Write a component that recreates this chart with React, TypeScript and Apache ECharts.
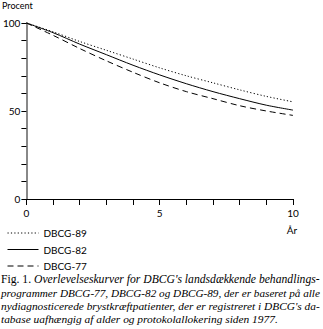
import React, { useEffect, useRef } from "react";
import * as echarts from "echarts";

const years = [0, 1, 2, 3, 4, 5, 6, 7, 8, 9, 10];
const dbcg89 = [100, 95, 89.5, 84.5, 79.5, 74.5, 70, 66, 62, 58.3, 55.2];
const dbcg82 = [100, 94.5, 88, 82, 76, 70.5, 65.5, 61, 57, 53.3, 50.5];
const dbcg77 = [100, 93, 85.5, 78.5, 72, 66, 61, 57, 53, 50, 47.5];
const xLabels = [0, 5, 10];
const yLabels = [0, 50, 100];
const captionPrefix = "Fig. 1. ";
const captionLines = [
  "Overlevelseskurver for DBCG's landsdækkende behandlings-",
  "programmer DBCG-77, DBCG-82 og DBCG-89, der er baseret på alle",
  "nydiagnosticerede brystkræftpatienter, der er registreret i DBCG's da-",
  "tabase uafhængig af alder og protokolallokering siden 1977.",
];

const sans = "Lato";
const serif = "Liberation Serif";

function measure(text: string, font: string) {
  const c = document.createElement("canvas").getContext("2d")!;
  c.font = font;
  return c.measureText(text).width;
}

export default function App() {
  const ref = useRef<HTMLDivElement>(null);
  useEffect(() => {
    if (!ref.current) return;
    const chart = echarts.init(ref.current, undefined, { renderer: "svg" });
    const mk = (name: string, data: number[], type: any) => ({
      name,
      type: "line",
      data: years.map((y, i) => [y, data[i]]),
      smooth: 0.3,
      symbol: "none",
      itemStyle: { color: "#000" },
      lineStyle: { color: "#000", width: 1, type },
    });
    const base = 11;
    const targets = [319, 319, 319, 0];
    const sizes = captionLines.map((t, i) => {
      let w = measure(t, `italic ${base}px "${serif}"`);
      if (i === 0) w += measure(captionPrefix, `${base}px "${serif}"`);
      return targets[i] ? (base * targets[i]) / w : 0;
    });
    sizes[3] = (sizes[0] + sizes[1] + sizes[2]) / 3;
    chart.setOption({
      animation: false,
      backgroundColor: "#fff",
      grid: { left: 24, right: 30, top: 23, bottom: 130, containLabel: false },
      xAxis: {
        type: "value",
        min: 0,
        max: 10,
        interval: 1,
        axisLine: { lineStyle: { color: "#000", width: 1 } },
        axisTick: { inside: false, length: 6, lineStyle: { color: "#000" } },
        splitLine: { show: false },
        axisLabel: {
          color: "#000",
          fontFamily: sans,
          fontSize: 10,
          margin: 9,
          formatter: (v: number) => (xLabels.includes(v) ? String(v) : ""),
        },
      },
      yAxis: {
        type: "value",
        min: 0,
        max: 100,
        interval: 10,
        axisLine: { show: true, lineStyle: { color: "#888", width: 2 } },
        axisTick: { show: true, inside: false, length: 5, lineStyle: { color: "#000" } },
        splitLine: { show: false },
        axisLabel: {
          color: "#000",
          fontFamily: sans,
          fontSize: 10,
          margin: 6,
          formatter: (v: number) => (yLabels.includes(v) ? String(v) : ""),
        },
      },
      legend: {
        orient: "vertical",
        left: 2,
        top: 223,
        itemWidth: 31,
        itemHeight: 10,
        itemGap: 6.5,
        data: ["DBCG-89", "DBCG-82", "DBCG-77"],
        itemStyle: { opacity: 0 },
        lineStyle: { width: 1 },
        textStyle: { color: "#000", fontFamily: sans, fontSize: 10 },
      },
      series: [
        mk("DBCG-89", dbcg89, [1.2, 2.2]),
        mk("DBCG-82", dbcg82, "solid"),
        mk("DBCG-77", dbcg77, [6, 4]),
      ],
      graphic: [
        {
          type: "text",
          left: 2,
          top: 1,
          style: { text: "Procent", fill: "#000", fontFamily: sans, fontSize: 9 },
        },
        {
          type: "text",
          x: 292,
          y: 230,
          style: {
            text: "År",
            fill: "#000",
            fontFamily: sans,
            fontSize: 10,
            align: "center",
            verticalAlign: "middle",
          },
        },
        ...captionLines.map((t, i) => ({
          type: "text",
          x: 1,
          y: [279.5, 293, 306, 319][i],
          style: {
            text: (i === 0 ? `{r|${captionPrefix}}` : "") + `{i|${t}}`,
            verticalAlign: "middle",
            align: "left",
            fill: "#000",
            rich: {
              r: { fontFamily: serif, fontSize: sizes[i], fontStyle: "normal", fill: "#000" },
              i: { fontFamily: serif, fontSize: sizes[i], fontStyle: "italic", fill: "#000" },
            },
          },
        })),
      ],
    });
    return () => chart.dispose();
  }, []);
  return (
    <div
      ref={ref}
      style={{ position: "fixed", left: 0, top: 0, width: 323, height: 329 }}
    />
  );
}
